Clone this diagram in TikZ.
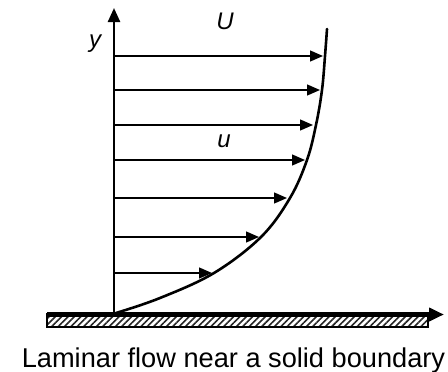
\documentclass[tikz,border=0pt]{standalone}
\usepackage{fontspec}
\setmainfont{Liberation Sans}
\usetikzlibrary{arrows.meta,patterns.meta}
\tikzset{
  axisline/.style={line width=2.4pt,-{Triangle[length=14pt,width=12pt]}},
  velarrow/.style={line width=1.3pt,-{Triangle[length=13pt,width=11pt]}},
  profile/.style={line width=2.6pt,line cap=round},
  lbl/.style={font=\fontsize{24}{26}\selectfont\itshape,inner sep=0pt},
}
\begin{document}
\begin{tikzpicture}[x=1pt,y=-1pt]
\useasboundingbox (0,0) rectangle (448,372);
% plate
\fill[pattern={Lines[angle=45,distance=4.5pt,line width=1.6pt]},pattern color=black!85] (47,314) rectangle (428,327);
\draw[line width=1.5pt] (47,314) rectangle (428,327);
\coordinate (xs) at (47,314.5);
\coordinate (xe) at (444,314.5);
\draw[line width=4.5pt,-{Triangle[length=15pt,width=13pt]}] (xs) -- (xe);
% y axis
\coordinate (o) at (114,314);
\coordinate (ytop) at (114,8);
\draw[axisline] (o) -- (ytop);
% velocity profile
\draw[profile] plot[smooth,tension=0.6] coordinates {(116,313) (160,298) (214,273) (261,237) (290,198) (307,160) (316,125) (322,90) (325,56) (327,29)};
% velocity arrows
\foreach \i/\yy/\xx in {1/56/323,2/90/320,3/125/313,4/160/305,5/198/287,6/237/259,7/273/212}{
  \coordinate (s\i) at (114,\yy);
  \coordinate (t\i) at (\xx,\yy);
  \draw[velarrow] (s\i) -- (t\i);
}
% labels
\node[lbl] (U) at (225,21) {U};
\node[lbl] (ylab) at (95,44) {y};
\node[lbl] (ulab) at (224,141) {u};
\node[anchor=base,inner sep=0pt,font=\fontsize{27.2}{30}\selectfont] (cap) at (233.5,367) {Laminar flow near a solid boundary};
\end{tikzpicture}
\end{document}
